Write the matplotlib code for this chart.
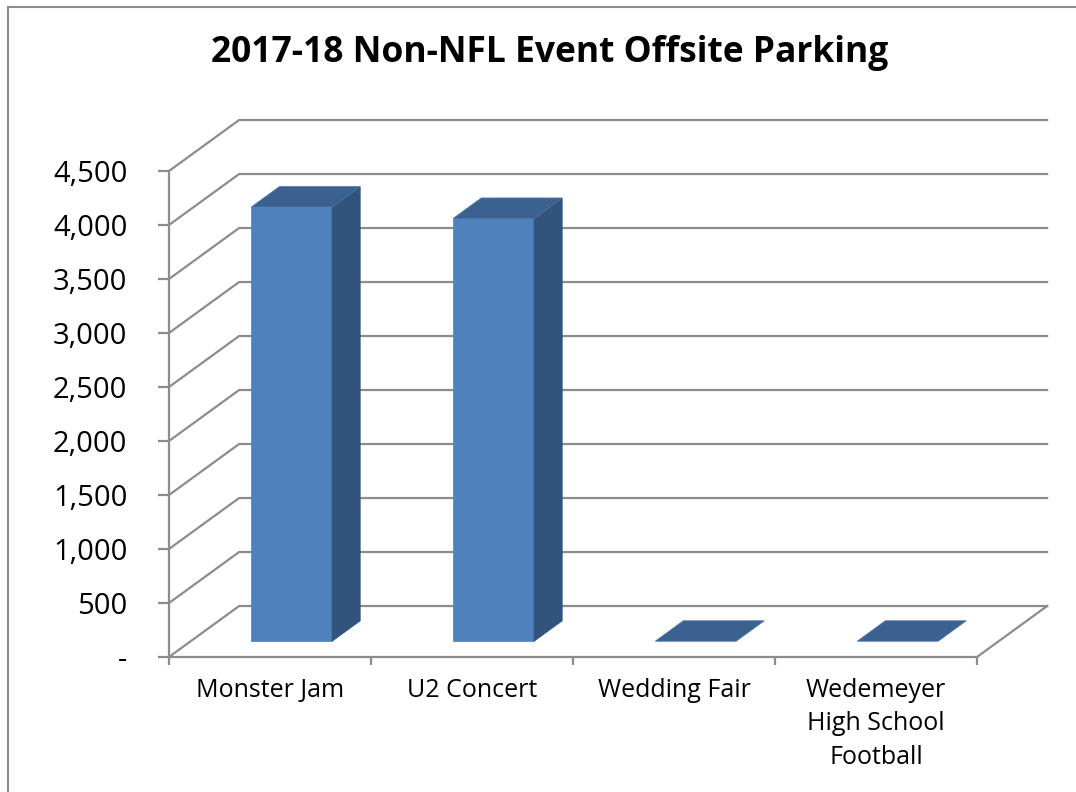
import matplotlib
matplotlib.use("Agg")
import matplotlib.pyplot as plt
from matplotlib.patches import Polygon
from matplotlib.lines import Line2D

categories = ["Monster Jam", "U2 Concert", "Wedding Fair", "Wedemeyer\nHigh School\nFootball"]
values = [4020, 3915, 0, 0]
y_ticks = [0, 500, 1000, 1500, 2000, 2500, 3000, 3500, 4000, 4500]
title = "2017-18 Non-NFL Event Offsite Parking"

# oblique "3d" depth, in data units (category units, value units)
DX = 0.347
DY = 472
GRID = "#8c8c8c"
FRONT = "#4f81bd"
SIDE = "#31537c"
TOP = "#3b6191"

fig = plt.figure(figsize=(10.76, 7.92), dpi=100)
W, H = 1076, 792
ax = fig.add_axes([169 / W, (H - 657) / H, 808 / W, 486 / H])
ax.set_xlim(0, 4)
ax.set_ylim(0, 4500)
ax.set_facecolor("none")


def pt(x, v, z):
    return (x + z * DX, v + z * DY)


# back wall gridlines with the diagonal on the side wall
for v in y_ticks:
    ax.add_line(Line2D([0, DX, 4 + DX], [v, v + DY, v + DY], color=GRID, lw=1.6,
                       clip_on=False, zorder=1))
# floor right edge
ax.add_line(Line2D([4, 4 + DX], [0, DY], color=GRID, lw=1.6, clip_on=False, zorder=1))

# bars
z0, z1 = 0.31, 0.71
for i, v in enumerate(values):
    x0, x1 = i + 0.3, i + 0.7
    top = [pt(x0, v, z0), pt(x1, v, z0), pt(x1, v, z1), pt(x0, v, z1)]
    if v > 0:
        front = [pt(x0, 0, z0), pt(x1, 0, z0), pt(x1, v, z0), pt(x0, v, z0)]
        side = [pt(x1, 0, z0), pt(x1, 0, z1), pt(x1, v, z1), pt(x1, v, z0)]
        ax.add_patch(Polygon(front, closed=True, fc=FRONT, ec="#5a8ac4", lw=0.6,
                             clip_on=False, zorder=3))
        ax.add_patch(Polygon(side, closed=True, fc=SIDE, ec=SIDE, lw=0.6,
                             clip_on=False, zorder=3))
    ax.add_patch(Polygon(top, closed=True, fc=TOP, ec="#4a72a6", lw=0.6,
                         clip_on=False, zorder=3))

# axes styling
for s in ["top", "right"]:
    ax.spines[s].set_visible(False)
for s in ["left", "bottom"]:
    ax.spines[s].set_color(GRID)
    ax.spines[s].set_linewidth(1.6)

ax.set_yticks(y_ticks)
ax.set_yticklabels(["-" if t == 0 else f"{t:,}" for t in y_ticks])
ax.tick_params(axis="y", length=8, width=1.6, color=GRID, pad=22,
               labelsize=21, labelcolor="black")
for lab in ax.get_yticklabels():
    lab.set_fontfamily("Open Sans")

ax.set_xticks([0, 1, 2, 3, 4])
ax.set_xticklabels([])
ax.tick_params(axis="x", which="major", length=6, width=1.6, color=GRID)
ax.set_xticks([0.5, 1.5, 2.5, 3.5], minor=True)
ax.set_xticklabels(categories, minor=True, fontfamily="Open Sans", fontsize=18,
                   linespacing=1.45)
ax.tick_params(axis="x", which="minor", length=0, pad=15)

fig.text(550 / W, 1 - 53 / H, title, ha="center", va="center",
         fontsize=25.5, fontweight="bold", fontfamily="Open Sans")

# outer chart border (top and left visible)
fig.add_artist(Line2D([8 / W, 8 / W], [0, 1 - 7 / H], color="#8c8c8c", lw=1.5))
fig.add_artist(Line2D([8 / W, 1], [1 - 7 / H, 1 - 7 / H], color="#8c8c8c", lw=1.5))

fig.savefig("out.png", dpi=100)
